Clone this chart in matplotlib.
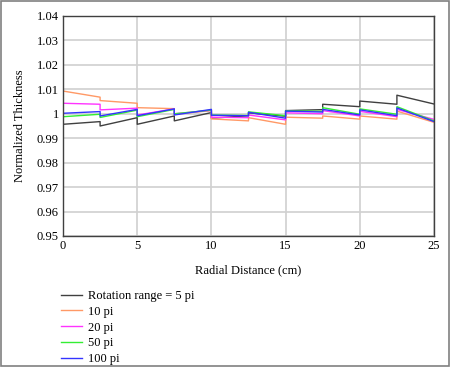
import matplotlib
matplotlib.use("Agg")
import matplotlib.pyplot as plt
from matplotlib.patches import Rectangle

plt.rcParams['font.family'] = ['Liberation Serif', 'DejaVu Serif']

# segment boundaries (cm): each segment drawn from start to end
seg_edges = [0, 2.5, 5, 7.5, 10, 12.5, 15, 17.5, 20, 22.5, 25]

labels = ["Rotation range = 5 pi", "10 pi", "20 pi", "50 pi", "100 pi"]
colors = ["#404040", "#ff9966", "#ff33ff", "#33ee33", "#3333ff"]

# (start, end) values per segment
black = [(0.9957, 0.9968), (0.9950, 0.9984), (0.9957, 0.9991), (0.9971, 1.0005),
         (0.9982, 0.9992), (1.0004, 0.9990), (1.0013, 1.0017), (1.0039, 1.0029),
         (1.0052, 1.0039), (1.0076, 1.0040)]
orange = [(1.0093, 1.0068), (1.0054, 1.0043), (1.0025, 1.0021), (0.9998, 1.0013),
          (0.9979, 0.9971), (0.9984, 0.9957), (0.9986, 0.9982), (0.9991, 0.9978),
          (0.9991, 0.9978), (1.0011, 0.9965)]
pink = [(1.0043, 1.0039), (1.0016, 1.0023), (0.9995, 1.0020), (1.0000, 1.0014),
        (0.9986, 0.9984), (0.9995, 0.9975), (1.0004, 1.0000), (1.0013, 0.9991),
        (1.0010, 0.9988), (1.0018, 0.9977)]
green = [(0.9988, 0.9998), (0.9985, 1.0015), (0.9988, 1.0018), (1.0000, 1.0015),
         (0.9995, 0.9993), (1.0008, 0.9992), (1.0012, 1.0010), (1.0025, 0.9998),
         (1.0020, 0.9998), (1.0029, 0.9971)]
blue = [(1.0002, 1.0009), (0.9991, 1.0018), (0.9992, 1.0020), (0.9995, 1.0018),
        (0.9994, 0.9992), (1.0006, 0.9982), (1.0011, 1.0007), (1.0018, 0.9995),
        (1.0016, 0.9992), (1.0024, 0.9968)]
series = [black, orange, pink, green, blue]

xticks = [0, 5, 10, 15, 20, 25]
yticks = [0.95, 0.96, 0.97, 0.98, 0.99, 1.0, 1.01, 1.02, 1.03, 1.04]
yticklabels = ["0.95", "0.96", "0.97", "0.98", "0.99", "1", "1.01", "1.02", "1.03", "1.04"]

fig = plt.figure(figsize=(4.5, 3.67), dpi=100)
ax = fig.add_axes([63/450, 1-236/367, (434-63)/450, (236-16)/367])

for vals, c, lab in zip(series, colors, labels):
    xs, ys = [], []
    for i, (s, e) in enumerate(vals):
        xs += [seg_edges[i], seg_edges[i+1]]
        ys += [s, e]
    ax.plot(xs, ys, color=c, lw=1.0, label=lab)

ax.set_xlim(0, 25)
ax.set_ylim(0.95, 1.04)
ax.set_xticks(xticks)
ax.set_yticks(yticks)
ax.set_yticklabels(yticklabels)
ax.grid(True, color="#d0d0d0", lw=1.2)
ax.set_axisbelow(True)
for sp in ax.spines.values():
    sp.set_color("#404040")
    sp.set_linewidth(1.0)
ax.tick_params(length=0, labelsize=9, pad=3)
ax.set_xlabel("Radial Distance (cm)", fontsize=9, labelpad=9)
ax.set_ylabel("Normalized Thickness", fontsize=9, labelpad=8)

ax.legend(loc="upper left", bbox_to_anchor=(56/450, 1-285/367),
          bbox_transform=fig.transFigure, frameon=False, fontsize=9,
          borderaxespad=0, labelspacing=0.3, handlelength=1.7, handletextpad=0.45)

fig.patches.append(Rectangle((0.002, 0.002), 0.996, 0.995, transform=fig.transFigure,
                             fill=False, edgecolor="#808080", lw=1.2))
fig.savefig("out.png", dpi=100)
